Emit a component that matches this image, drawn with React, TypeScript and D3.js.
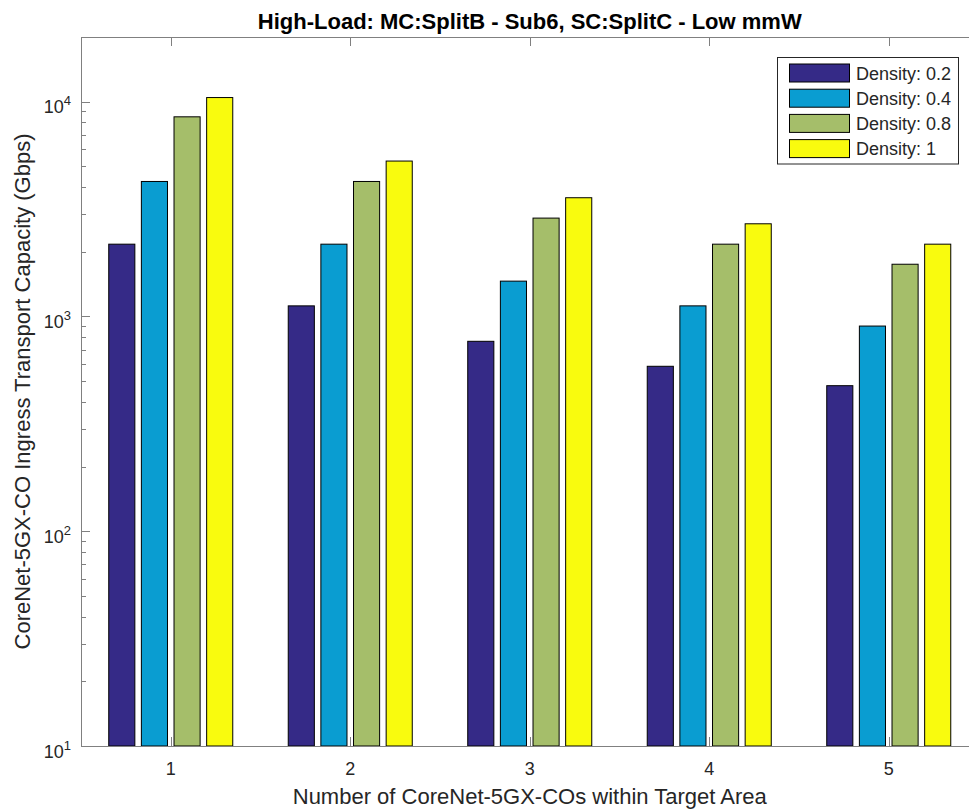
import * as d3 from "d3";
import { useEffect, useRef } from "react";

const groups: number[] = [1, 2, 3, 4, 5];
const seriesNames: string[] = ["Density: 0.2", "Density: 0.4", "Density: 0.8", "Density: 1"];
const density02: number[] = [2170, 1120, 766, 586, 476];
const density04: number[] = [4250, 2170, 1460, 1120, 902];
const density08: number[] = [8500, 4250, 2870, 2170, 1750];
const density1: number[] = [10450, 5290, 3570, 2700, 2170];
const colors: string[] = ["#352A87", "#0A9DD1", "#A5BE6A", "#F9FB0E"];
const majorTicks: number[] = [10, 100, 1000, 10000];

export default function App() {
  const width = 969;
  const height = 810;
  const marginTop = 37;
  const marginBottom = 64;
  const marginLeft = 81;
  const plotRight = 978.5;
  const font = "'Liberation Sans', Arial, Helvetica, sans-serif";

  const svgRef = useRef<SVGSVGElement>(null);

  useEffect(() => {
    const svgEl = d3.select(svgRef.current);
    svgEl.selectAll("*").remove();

    const series = [density02, density04, density08, density1];
    const bottom = height - marginBottom;

    const xScale = d3.scaleLinear([0.5, 5.5], [marginLeft, plotRight]);
    const yScale = d3.scaleLog([10, 20000], [bottom, marginTop]);

    // grouped bar geometry like matlab's bar()
    const groupW = series.length / (series.length + 1.5);
    const slot = groupW / series.length;
    const barW = (xScale(slot) - xScale(0)) * 0.8;

    const axisColor = "#808080";
    const textColor = "#262626";

    // bars
    series.forEach((vals, si) => {
      svgEl.append("g")
        .selectAll("rect")
        .data(vals)
        .join("rect")
        .attr("x", (d, i) => xScale(groups[i] + (si - 1.5) * slot) - barW / 2)
        .attr("y", d => yScale(d))
        .attr("width", barW)
        .attr("height", d => bottom - yScale(d))
        .attr("fill", colors[si])
        .attr("stroke", "#000")
        .attr("stroke-width", 1);
    });

    // box
    const axes = svgEl.append("g").attr("stroke", axisColor).attr("fill", "none").attr("shape-rendering", "crispEdges");
    axes.append("line").attr("x1", marginLeft).attr("x2", plotRight).attr("y1", marginTop).attr("y2", marginTop);
    axes.append("line").attr("x1", marginLeft).attr("x2", plotRight).attr("y1", bottom).attr("y2", bottom);
    axes.append("line").attr("x1", marginLeft).attr("x2", marginLeft).attr("y1", marginTop).attr("y2", bottom);
    axes.append("line").attr("x1", plotRight).attr("x2", plotRight).attr("y1", marginTop).attr("y2", bottom);

    // x ticks (inward, top and bottom)
    groups.forEach(g => {
      const x = Math.round(xScale(g)) + 0.5;
      axes.append("line").attr("x1", x).attr("x2", x).attr("y1", bottom).attr("y2", bottom - 9);
      axes.append("line").attr("x1", x).attr("x2", x).attr("y1", marginTop).attr("y2", marginTop + 9);
    });

    // y ticks, major + minor
    const minor: number[] = [];
    [10, 100, 1000, 10000].forEach(p => {
      for (let k = 2; k <= 9; k++) {
        const v = k * p;
        if (v <= 20000) minor.push(v);
      }
    });
    majorTicks.forEach(v => {
      const y = Math.round(yScale(v)) + 0.5;
      axes.append("line").attr("x1", marginLeft).attr("x2", marginLeft + 9).attr("y1", y).attr("y2", y);
      axes.append("line").attr("x1", plotRight).attr("x2", plotRight - 9).attr("y1", y).attr("y2", y);
    });
    minor.forEach(v => {
      const y = Math.round(yScale(v)) + 0.5;
      axes.append("line").attr("x1", marginLeft).attr("x2", marginLeft + 5).attr("y1", y).attr("y2", y);
      axes.append("line").attr("x1", plotRight).attr("x2", plotRight - 5).attr("y1", y).attr("y2", y);
    });

    // tick labels
    const labels = svgEl.append("g").attr("font-family", font).attr("fill", textColor);
    groups.forEach(g => {
      labels.append("text")
        .attr("x", xScale(g))
        .attr("y", bottom + 29)
        .attr("text-anchor", "middle")
        .attr("font-size", 18)
        .text(String(g));
    });
    majorTicks.forEach(v => {
      const t = labels.append("text")
        .attr("x", 71)
        .attr("y", yScale(v) + 11.5)
        .attr("text-anchor", "end")
        .attr("font-size", 18);
      t.append("tspan").text("10");
      t.append("tspan").attr("dy", -8).attr("font-size", 13).text(String(Math.round(Math.log10(v))));
    });

    // title & axis labels
    svgEl.append("text")
      .attr("x", (marginLeft + plotRight) / 2)
      .attr("y", 29)
      .attr("text-anchor", "middle")
      .attr("font-family", font)
      .attr("font-weight", "bold")
      .attr("font-size", 22)
      .attr("fill", "#000")
      .text("High-Load: MC:SplitB - Sub6, SC:SplitC - Low mmW");

    svgEl.append("text")
      .attr("x", (marginLeft + plotRight) / 2)
      .attr("y", 804)
      .attr("text-anchor", "middle")
      .attr("font-family", font)
      .attr("font-size", 22)
      .attr("fill", textColor)
      .text("Number of CoreNet-5GX-COs within Target Area");

    svgEl.append("text")
      .attr("transform", `translate(30, ${(marginTop + bottom) / 2}) rotate(-90)`)
      .attr("text-anchor", "middle")
      .attr("font-family", font)
      .attr("font-size", 22)
      .attr("fill", textColor)
      .text("CoreNet-5GX-CO Ingress Transport Capacity (Gbps)");

    // legend
    const legend = svgEl.append("g");
    legend.append("rect")
      .attr("x", 777.5).attr("y", 57.5)
      .attr("width", 181).attr("height", 106.5)
      .attr("fill", "#fff")
      .attr("stroke", "#262626")
      .attr("stroke-width", 1);
    seriesNames.forEach((name, i) => {
      const cy = 73 + i * 25.2;
      legend.append("rect")
        .attr("x", 789.5).attr("y", cy - 9)
        .attr("width", 60).attr("height", 18)
        .attr("fill", colors[i])
        .attr("stroke", "#000");
      legend.append("text")
        .attr("x", 856).attr("y", cy + 6.5)
        .attr("font-family", font)
        .attr("font-size", 18)
        .attr("fill", textColor)
        .text(name);
    });
  }, []);

  return (
    <svg
      ref={svgRef}
      width={width}
      height={height}
      style={{ position: "absolute", left: 0, top: 0, background: "#fff" }}
      xmlns="http://www.w3.org/2000/svg"
    >
    </svg>
  );
}
